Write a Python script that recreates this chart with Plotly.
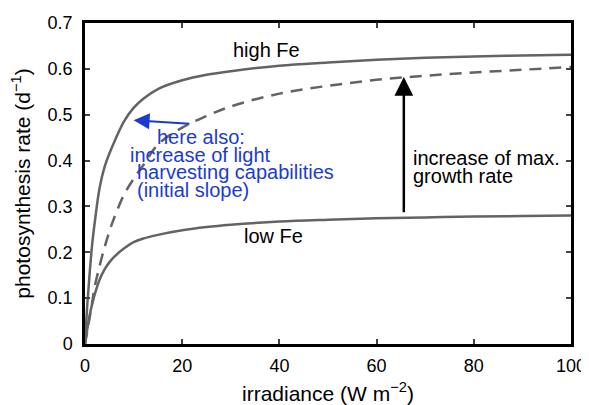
import plotly.graph_objects as go

irradiance = [0, 0.5, 1, 1.5, 2, 3, 4, 5, 6, 8, 10, 12, 15, 20, 25, 30, 40, 50, 60, 70, 80, 90, 100]
high_fe = [0, 0.09, 0.16, 0.22, 0.265, 0.34, 0.385, 0.415, 0.44, 0.485, 0.515, 0.535, 0.556, 0.575, 0.587, 0.595, 0.607, 0.614, 0.620, 0.624, 0.627, 0.629, 0.631]
low_fe = [0, 0.035, 0.065, 0.088, 0.108, 0.14, 0.162, 0.178, 0.19, 0.208, 0.222, 0.23, 0.238, 0.248, 0.255, 0.26, 0.267, 0.271, 0.274, 0.276, 0.278, 0.279, 0.280]
dashed = [0, 0.03, 0.06, 0.093, 0.125, 0.17, 0.21, 0.245, 0.275, 0.325, 0.36, 0.39, 0.435, 0.472, 0.497, 0.518, 0.546, 0.563, 0.576, 0.585, 0.592, 0.598, 0.604]

x_ticks = [0, 20, 40, 60, 80, 100]
y_ticks = [0, 0.1, 0.2, 0.3, 0.4, 0.5, 0.6, 0.7]
y_tick_labels = ["0", "0.1", "0.2", "0.3", "0.4", "0.5", "0.6", "0.7"]

gray = "#636363"
blue = "#1b3bd0"
FONT = "Liberation Sans, Arial, Helvetica, sans-serif"
ANN = 20

fig = go.Figure()
fig.add_trace(go.Scatter(x=irradiance, y=high_fe, mode="lines",
                         line=dict(color=gray, width=2.5, shape="spline"), showlegend=False))
fig.add_trace(go.Scatter(x=irradiance, y=low_fe, mode="lines",
                         line=dict(color=gray, width=2.5, shape="spline"), showlegend=False))
fig.add_trace(go.Scatter(x=irradiance, y=dashed, mode="lines",
                         line=dict(color=gray, width=2.5, shape="spline", dash="12px,8px"), showlegend=False))

annotations = [
    dict(x=37.4, y=0.642, text="high Fe", showarrow=False, font=dict(size=ANN, color="black")),
    dict(x=38.8, y=0.236, text="low Fe", showarrow=False, font=dict(size=ANN, color="black")),
    dict(x=67.0, y=0.406, text="increase of max.", showarrow=False, xanchor="left",
         font=dict(size=ANN, color="black")),
    dict(x=67.0, y=0.367, text="growth rate", showarrow=False, xanchor="left",
         font=dict(size=ANN, color="black")),
    # black arrow
    dict(x=65.6, y=0.582, ax=65.6, ay=0.284, xref="x", yref="y", axref="x", ayref="y",
         text="", showarrow=True, arrowhead=2, arrowsize=1.5, arrowwidth=2.5, arrowcolor="black"),
    # blue arrow
    dict(x=10.0, y=0.488, ax=21.8, ay=0.480, xref="x", yref="y", axref="x", ayref="y",
         text="", showarrow=True, arrowhead=2, arrowsize=1.6, arrowwidth=2, arrowcolor=blue),
]
blue_lines = [
    (14.4, 0.452, "here also:"),
    (8.8, 0.413, "increase of light"),
    (10.2, 0.374, "harvesting capabilities"),
    (10.2, 0.335, "(initial slope)"),
]
for bx, by, t in blue_lines:
    annotations.append(dict(x=bx, y=by, text=t, showarrow=False, xanchor="left",
                            font=dict(size=ANN, color=blue)))

# the page body has an 8px margin, so the figure is drawn 8px in from the top-left
fig.update_layout(
    width=581, height=397,
    margin=dict(l=77, r=18, t=15, b=61),
    paper_bgcolor="white", plot_bgcolor="white",
    font=dict(family=FONT, size=18, color="black"),
    annotations=annotations,
    xaxis=dict(range=[0, 100], tickvals=x_ticks, ticks="inside", ticklen=5, tickwidth=1.5,
               showline=True, linewidth=2.5, linecolor="black", mirror="ticks",
               showgrid=False, zeroline=False, automargin=False, ticklabelstandoff=4,
               ticklabeloverflow="allow",
               title=dict(text="irradiance (W m<sup>−2</sup>)", standoff=18, font=dict(size=21)),
               tickfont=dict(size=18)),
    yaxis=dict(range=[0, 0.7], tickvals=y_ticks, ticktext=y_tick_labels, ticks="inside", ticklen=5, tickwidth=1.5,
               showline=True, linewidth=2.5, linecolor="black", mirror="ticks",
               showgrid=False, zeroline=False, automargin=False, ticklabelstandoff=6,
               title=dict(text="photosynthesis rate (d<sup>−1</sup>)", standoff=12, font=dict(size=21)),
               tickfont=dict(size=18)),
)

fig.write_html("out.html")
